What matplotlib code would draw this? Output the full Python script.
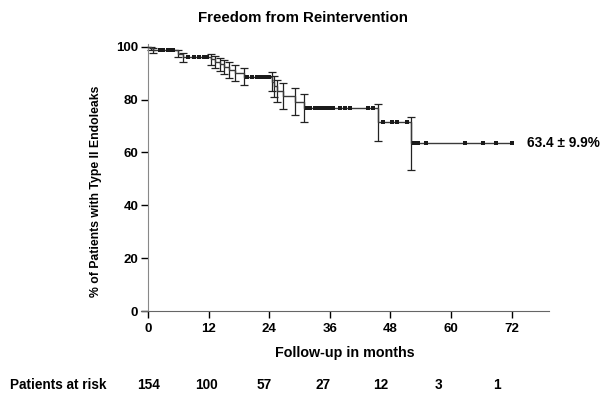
# encoding="utf-8"
# Kaplan-Meier style chart: freedom from reintervention
import numpy as np
import matplotlib
matplotlib.use("Agg")
import matplotlib.pyplot as plt

plt.rcParams['font.family'] = ['Liberation Sans', 'DejaVu Sans']

# event times (months), survival (%), standard error (%)
event_t = [0, 0.5, 1.0, 6.0, 7.0, 12.5, 13.2, 14.2, 15.0, 16.0, 17.2, 19.0,
           24.5, 25.0, 25.5, 26.8, 29.0, 30.8, 45.5, 52.0]
event_s = [100, 99.3, 98.6, 97.3, 96.0, 95.2, 94.3, 93.3, 92.3, 91.2, 90.0, 88.7,
           86.8, 85.0, 83.2, 81.2, 79.1, 76.9, 71.4, 63.4]
event_se = [0, 0.7, 1.0, 1.4, 1.7, 2.0, 2.3, 2.5, 2.7, 2.9, 3.1, 3.3,
            3.7, 3.9, 4.2, 4.9, 5.1, 5.3, 7.0, 9.9]
# censored observations (months)
censor_t = [2.4, 3.0, 4.0, 4.6, 5.0, 8.0, 9.0, 10.0, 11.0, 11.6,
            19.6, 20.5, 21.5, 22.2, 23.0, 23.6, 24.0,
            31.5, 32.0, 33.0, 33.5, 34.0, 34.6, 35.2, 36.0, 36.6, 38.0, 39.0, 40.0, 43.6, 44.5,
            46.5, 48.3, 49.3, 51.3, 52.6, 53.5, 55.0, 62.8, 66.4, 69.0, 72.1]
end_t = 72.1

risk_months = [0, 12, 24, 36, 48, 60, 72]
risk_n = [154, 100, 57, 27, 12, 3, 1]

fig = plt.figure(figsize=(6.11, 3.98), dpi=100)
ax = fig.add_axes([141 / 611, 87 / 398, 408 / 611, 267 / 398])

# step curve
xs = list(event_t) + [end_t]
ys = list(event_s) + [event_s[-1]]
ax.step(xs, ys, where='post', color='#3a3a3a', lw=1.0, zorder=3)

# error bars at each event
ax.errorbar(event_t[1:], event_s[1:], yerr=event_se[1:], fmt='none',
            ecolor='#222222', elinewidth=0.9, capsize=3, capthick=0.9, zorder=2)

# censor marks
idx = np.searchsorted(event_t, censor_t, side='right') - 1
cs = np.array(event_s)[idx]
ax.plot(censor_t, cs, 's', color='#1a1a1a', ms=2.6, mew=0, zorder=4)

ax.set_xlim(-1.4, 79.4)
ax.set_ylim(0, 101)
ax.spines['left'].set_position(('data', 0))
ax.spines['top'].set_visible(False)
ax.spines['right'].set_visible(False)
ax.spines['left'].set_color('#888888')
ax.spines['bottom'].set_color('#666666')
ax.spines['left'].set_bounds(0, 101)

ax.set_xticks(risk_months)
ax.set_yticks([0, 20, 40, 60, 80, 100])
ax.tick_params(direction='out', length=5, width=1, labelsize=9.5, colors='black')
for lab in ax.get_xticklabels() + ax.get_yticklabels():
    lab.set_fontweight('bold')
ax.tick_params(axis='y', pad=2)

ax.set_xlabel('Follow-up in months', fontsize=10.3, fontweight='bold', labelpad=8)
ax.set_ylabel('% of Patients with Type II Endoleaks', fontsize=8.8, fontweight='bold')
ax.yaxis.set_label_coords(-0.095, 0.45)

fig.text(0.495, 0.955, 'Freedom from Reintervention', ha='center', va='center',
         fontsize=10.8, fontweight='bold')

ax.text(end_t + 3, event_s[-1], '63.4 \u00b1 9.9%', ha='left', va='center',
        fontsize=9.8, fontweight='bold')

# patients at risk row
fig.text(10 / 611, 1 - 385 / 398, 'Patients at risk', ha='left', va='center',
         fontsize=9.8, fontweight='bold')
for m, n in zip(risk_months, risk_n):
    xf = fig.transFigure.inverted().transform(ax.transData.transform((m * 0.96, 0)))[0]
    fig.text(xf, 1 - 385 / 398, str(n), ha='center', va='center',
             fontsize=9.8, fontweight='bold')

fig.savefig('out.png', dpi=100)
